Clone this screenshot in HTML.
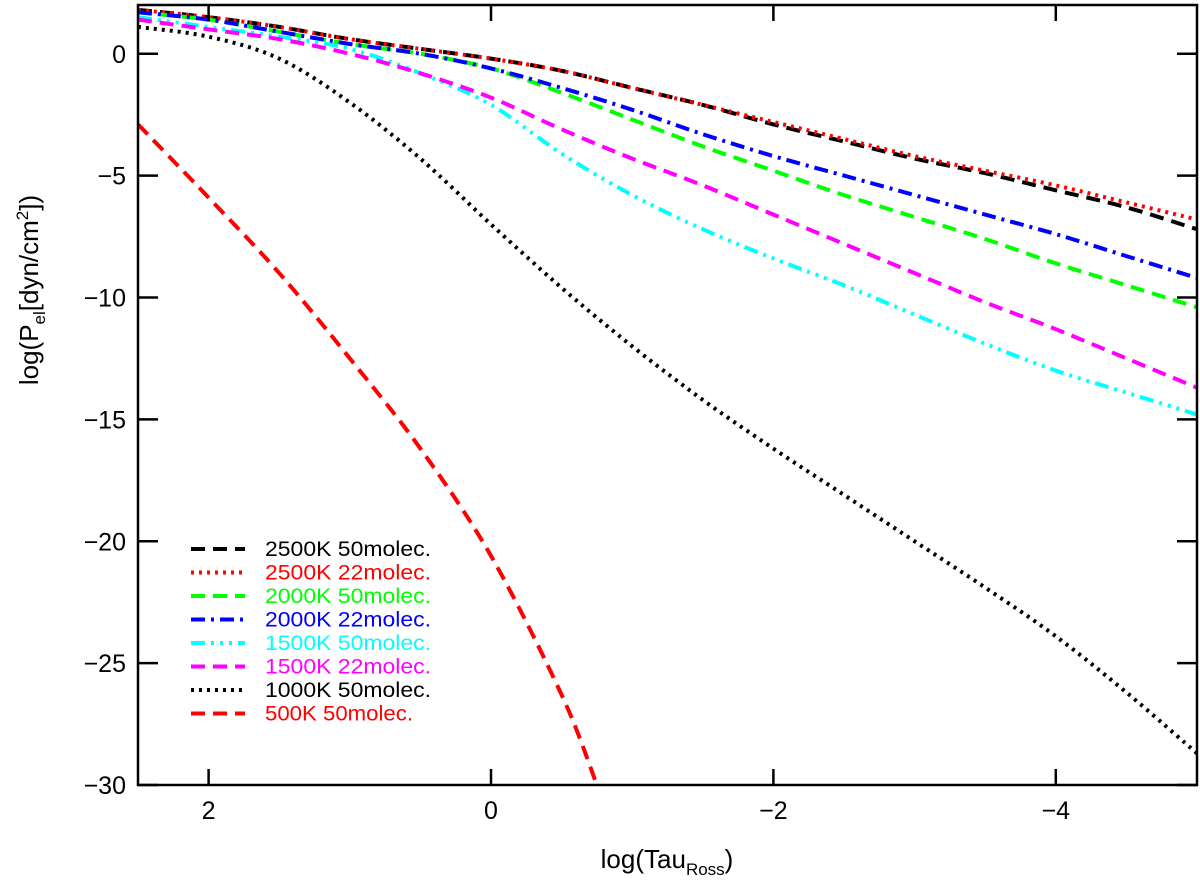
<!DOCTYPE html>
<html><head><meta charset="utf-8"><style>
body{margin:0;background:#fff;}
svg{display:block;font-family:"Liberation Sans","DejaVu Sans",sans-serif;}
</style></head><body>
<svg id="chart" width="1200" height="883" viewBox="0 0 1200 883"></svg>
<script>
const xTicks=[2,0,-2,-4];
const yTicks=[0,-5,-10,-15,-20,-25,-30];
const tGrid=[2.5,2,1.5,1,0.5,0,-0.5,-1,-1.5,-2,-2.5,-3,-3.5,-4,-4.5,-5];
const s2500_50=[1.8,1.5,1.1,0.6,0.2,-0.2,-0.7,-1.4,-2.1,-2.9,-3.6,-4.3,-4.9,-5.6,-6.3,-7.2];
const s2500_22=[1.8,1.5,1.1,0.6,0.2,-0.2,-0.7,-1.4,-2.1,-2.8,-3.5,-4.2,-4.8,-5.4,-6.1,-6.8];
const s2000_50=[1.7,1.4,0.9,0.4,0.0,-0.6,-1.6,-2.7,-3.8,-4.8,-5.8,-6.7,-7.6,-8.6,-9.5,-10.4];
const s2000_22=[1.7,1.4,0.9,0.4,0.0,-0.6,-1.4,-2.3,-3.3,-4.2,-5.0,-5.8,-6.6,-7.4,-8.3,-9.2];
const s1500_50=[1.5,1.1,0.7,0.2,-0.8,-2.1,-4.1,-5.8,-7.2,-8.4,-9.5,-10.7,-11.9,-13.0,-13.9,-14.8];
const s1500_22=[1.4,1.0,0.6,0.0,-0.8,-1.8,-3.1,-4.3,-5.4,-6.6,-7.8,-9.0,-10.2,-11.3,-12.5,-13.7];
const s1000_50=[1.1,0.7,-0.2,-2.0,-4.3,-7.0,-9.6,-12.0,-14.2,-16.2,-18.1,-20.0,-21.9,-23.9,-26.2,-28.7];
const t500=[2.5,2,1.5,1,0.5,0,-0.5,-0.75];
const s500_50=[-2.9,-5.9,-9.0,-12.5,-16.2,-20.6,-26.3,-30.0];
const X0=138,X1=1197,Y0=5,Y1=785;
const xs=t=>X0+(2.5-t)/7.5*(X1-X0);
const ys=v=>Y0+(2-v)/32*(Y1-Y0);
const NS="http://www.w3.org/2000/svg";
const svg=document.getElementById('chart');
function mk(tag,attrs,parent){const e=document.createElementNS(NS,tag);for(const k in attrs)e.setAttribute(k,attrs[k]);(parent||svg).appendChild(e);return e;}
function smooth(pts){
 let d='M'+pts[0][0].toFixed(1)+','+pts[0][1].toFixed(1);
 for(let i=0;i<pts.length-1;i++){
  const p0=pts[Math.max(0,i-1)],p1=pts[i],p2=pts[i+1],p3=pts[Math.min(pts.length-1,i+2)];
  const c1=[p1[0]+(p2[0]-p0[0])/6,p1[1]+(p2[1]-p0[1])/6];
  const c2=[p2[0]-(p3[0]-p1[0])/6,p2[1]-(p3[1]-p1[1])/6];
  d+='C'+c1.map(n=>n.toFixed(1)).join(',')+' '+c2.map(n=>n.toFixed(1)).join(',')+' '+p2[0].toFixed(1)+','+p2[1].toFixed(1);
 }
 return d;
}
const clip=mk('clipPath',{id:'pc'});mk('rect',{x:X0,y:Y0,width:X1-X0,height:Y1-Y0},clip);
const series=[
 {t:tGrid,v:s2500_50,c:'#000',d:'14,8',n:'series-2500k-50molec'},
 {t:tGrid,v:s2500_22,c:'#ff0000',d:'3,5',n:'series-2500k-22molec'},
 {t:tGrid,v:s2000_50,c:'#00ff00',d:'14,8',n:'series-2000k-50molec'},
 {t:tGrid,v:s2000_22,c:'#0000ff',d:'14,6,3,6',n:'series-2000k-22molec'},
 {t:tGrid,v:s1500_50,c:'#00ffff',d:'14,6,3,6,3,6,3,6',n:'series-1500k-50molec'},
 {t:tGrid,v:s1500_22,c:'#ff00ff',d:'14,8',n:'series-1500k-22molec'},
 {t:tGrid,v:s1000_50,c:'#000',d:'3,5',n:'series-1000k-50molec'},
 {t:t500,v:s500_50,c:'#ff0000',d:'14,8',n:'series-500k-50molec'}
];
const labels=['2500K 50molec.','2500K 22molec.','2000K 50molec.','2000K 22molec.','1500K 50molec.','1500K 22molec.','1000K 50molec.','500K 50molec.'];
const g=mk('g',{'clip-path':'url(#pc)'});
series.forEach(s=>{
 const pts=s.t.map((t,i)=>[xs(t),ys(s.v[i])]);
 const p=mk('path',{d:smooth(pts),fill:'none',stroke:s.c,'stroke-width':4,'stroke-dasharray':s.d},g);
 
 
});
const frame=mk('rect',{x:X0,y:Y0,width:X1-X0,height:Y1-Y0,fill:'none',stroke:'#000','stroke-width':2.5});


xTicks.forEach(t=>{
 const x=xs(t);
 mk('line',{x1:x,y1:Y1,x2:x,y2:Y1-16,stroke:'#000','stroke-width':2.5});
 mk('line',{x1:x,y1:Y0,x2:x,y2:Y0+16,stroke:'#000','stroke-width':2.5});
 const tx=mk('text',{x:x,y:Y1+34,'text-anchor':'middle','font-size':25,fill:'#000'});
 tx.textContent=(t<0?'\u2212'+(-t):String(t));
 
 
});
yTicks.forEach(v=>{
 const y=ys(v);
 mk('line',{x1:X0,y1:y,x2:X0+20,y2:y,stroke:'#000','stroke-width':2.5});
 mk('line',{x1:X1,y1:y,x2:X1-20,y2:y,stroke:'#000','stroke-width':2.5});
 const tx=mk('text',{x:X0-12,y:y+9,'text-anchor':'end','font-size':25,fill:'#000'});
 tx.textContent=(v<0?'\u2212'+(-v):String(v));
 
 
});
const xl=mk('text',{x:667,y:868,'text-anchor':'middle','font-size':26,fill:'#000'});
xl.innerHTML='log(Tau<tspan font-size="17" dy="7">Ross</tspan><tspan dy="-7">)</tspan>';


const yl=mk('text',{x:0,y:0,'text-anchor':'middle','font-size':26,fill:'#000',transform:'translate(38,290) rotate(-90)'});
yl.innerHTML='log(P<tspan font-size="17" dy="7">el</tspan><tspan dy="-7">[dyn/cm</tspan><tspan font-size="17" dy="-10">2</tspan><tspan dy="10">])</tspan>';


series.forEach((s,i)=>{
 const y=549+i*23.5;
 const lg=mk('g',{});
 
 
 mk('line',{x1:191,y1:y,x2:245,y2:y,stroke:s.c,'stroke-width':4,'stroke-dasharray':s.d},lg);
 const tx=mk('text',{x:265,y:y+7,'font-size':21,fill:s.c,textLength:(i===7?148:166),lengthAdjust:'spacingAndGlyphs'},lg);
 tx.textContent=labels[i];
});
</script>
</body></html>
